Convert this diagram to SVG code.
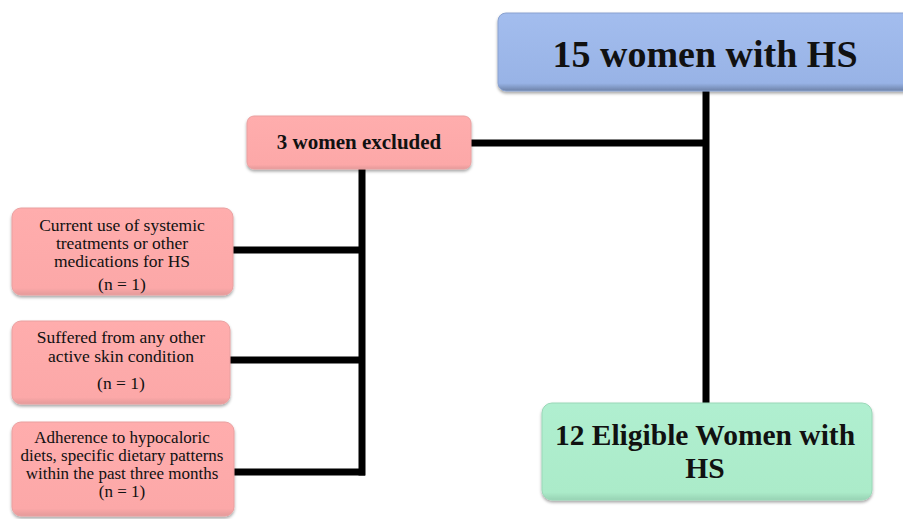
<svg xmlns="http://www.w3.org/2000/svg" width="903" height="519" viewBox="0 0 903 519">
<defs>
<filter id="sh" x="-10%" y="-10%" width="120%" height="130%">
<feDropShadow dx="0" dy="2" stdDeviation="1.5" flood-color="#000" flood-opacity="0.35"/>
</filter>
<linearGradient id="gBlue" x1="0" y1="0" x2="0" y2="1">
<stop offset="0" stop-color="#a3bdee"/><stop offset="0.9" stop-color="#98b3e6"/><stop offset="1" stop-color="#6d82a8"/>
</linearGradient>
<linearGradient id="gPink" x1="0" y1="0" x2="0" y2="1">
<stop offset="0" stop-color="#ffadad"/><stop offset="0.92" stop-color="#fca8a8"/><stop offset="1" stop-color="#e49a9a"/>
</linearGradient>
<linearGradient id="gGreen" x1="0" y1="0" x2="0" y2="1">
<stop offset="0" stop-color="#b0efd0"/><stop offset="0.92" stop-color="#abebc9"/><stop offset="1" stop-color="#98d3b4"/>
</linearGradient>
</defs>
<style>
.box{filter:url(#sh);}
.blue{fill:url(#gBlue);stroke:#8aa2cf;stroke-width:1;}
.pink{fill:url(#gPink);stroke:#eaa0a0;stroke-width:1;}
.green{fill:url(#gGreen);stroke:#9ad8b8;stroke-width:1;}
text{font-family:"Liberation Serif","Times New Roman",serif;fill:#111;text-anchor:middle;}
.big{font-size:38px;font-weight:bold;}
.mid{font-size:21px;font-weight:bold;}
.elig{font-size:29.5px;font-weight:bold;}
.small{font-size:17.5px;}
.small2{font-size:17px;}
.conn line{stroke:#000;stroke-width:7;}
</style>

<g id="connectors" class="conn">
<line x1="706" y1="90" x2="706" y2="404"/>
<line x1="470" y1="143" x2="709" y2="143"/>
<line x1="362" y1="168" x2="362" y2="475.5"/>
<line x1="232" y1="250" x2="362" y2="250"/>
<line x1="229" y1="360" x2="362" y2="360"/>
<line x1="234" y1="472" x2="365" y2="472"/>
</g>

<g id="node-total">
<rect class="box blue" x="498" y="13" width="420" height="78" rx="8"/>
<text class="big" x="705" y="67">15 women with HS</text>
</g>

<g id="node-excluded">
<rect class="box pink" x="247" y="116" width="224" height="53" rx="7"/>
<text class="mid" x="359" y="149">3 women excluded</text>
</g>

<g id="node-reason1">
<rect class="box pink" x="12" y="208" width="221" height="87" rx="9"/>
<text class="small" x="122" y="231">Current use of systemic</text>
<text class="small" x="122" y="249">treatments or other</text>
<text class="small" x="122" y="267">medications for HS</text>
<text class="small" x="122" y="290">(n = 1)</text>
</g>

<g id="node-reason2">
<rect class="box pink" x="12" y="321" width="218" height="83" rx="9"/>
<text class="small" x="121" y="343">Suffered from any other</text>
<text class="small" x="121" y="362">active skin condition</text>
<text class="small" x="121" y="389">(n = 1)</text>
</g>

<g id="node-reason3">
<rect class="box pink" x="12" y="422" width="222" height="94" rx="9"/>
<text class="small2" x="122" y="443">Adherence to hypocaloric</text>
<text class="small2" x="122" y="461">diets, specific dietary patterns</text>
<text class="small2" x="122" y="479">within the past three months</text>
<text class="small2" x="122" y="497">(n = 1)</text>
</g>

<g id="node-eligible">
<rect class="box green" x="542" y="403" width="330" height="97" rx="10"/>
<text class="elig" x="705" y="445">12 Eligible Women with</text>
<text class="elig" x="705" y="478">HS</text>
</g>
</svg>
